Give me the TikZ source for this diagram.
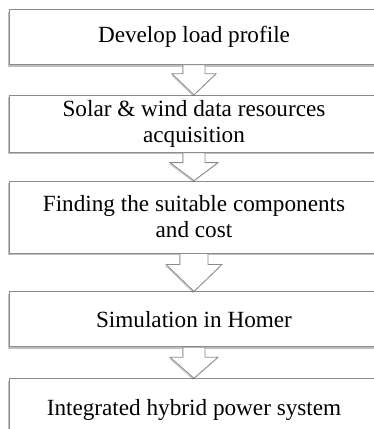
\documentclass[tikz,border=0pt]{standalone}
\usepackage{fontspec}
\setmainfont{Liberation Serif}
\usetikzlibrary{positioning,calc,shadows}

\definecolor{edgegray}{RGB}{140,140,140}

\tikzset{
	stepbox/.style={draw=edgegray,fill=white,line width=0.6pt,
		minimum width=277.5pt,align=center,inner sep=1pt,
		font=\fontsize{17.4}{19.5}\selectfont,
		drop shadow={shadow xshift=-0.6pt,shadow yshift=-1.6pt,fill=black,opacity=0.25}},
	arrowshape/.style={draw=edgegray,fill=white,line width=0.6pt,line join=miter,
		drop shadow={shadow xshift=-0.6pt,shadow yshift=-1.2pt,fill=black,opacity=0.2}}
}

% block arrow: from, to, stem half width, head half width, shoulder depth
\newcommand{\flowarrow}[5]{%
	\path[arrowshape] ($(#1.south)+(-#3,0)$) -- ($(#1.south)+(-#3,-#5)$)
		-- ($(#1.south)+(-#4,-#5)$) -- (#2.north)
		-- ($(#1.south)+(#4,-#5)$) -- ($(#1.south)+(#3,-#5)$)
		-- ($(#1.south)+(#3,0)$) -- cycle;
}

\begin{document}
\begin{tikzpicture}
	\useasboundingbox (0,0) rectangle (280.5pt,-321.75pt);

	\node[stepbox,minimum height=41.25pt,anchor=north] (s_1) at (145.5pt,-6.75pt) {Develop load profile};
	\node[stepbox,minimum height=42.75pt] (s_2) [below=22.5pt of s_1] {Solar \& wind data resources\\acquisition};
	\node[stepbox,minimum height=54pt] (s_3) [below=21pt of s_2] {Finding the suitable components\\and cost};
	\node[stepbox,minimum height=41.25pt] (s_4) [below=28.5pt of s_3] {Simulation in Homer};
	\node[stepbox,minimum height=46.5pt] (s_5) [below=23.25pt of s_4] {Integrated hybrid power system};

	\flowarrow{s_1}{s_2}{8.25pt}{16.5pt}{6.75pt}
	\flowarrow{s_2}{s_3}{8.25pt}{18pt}{7.5pt}
	\flowarrow{s_3}{s_4}{10.5pt}{21pt}{8.25pt}
	\flowarrow{s_4}{s_5}{8.25pt}{18pt}{7.5pt}

\end{tikzpicture}
\end{document}
